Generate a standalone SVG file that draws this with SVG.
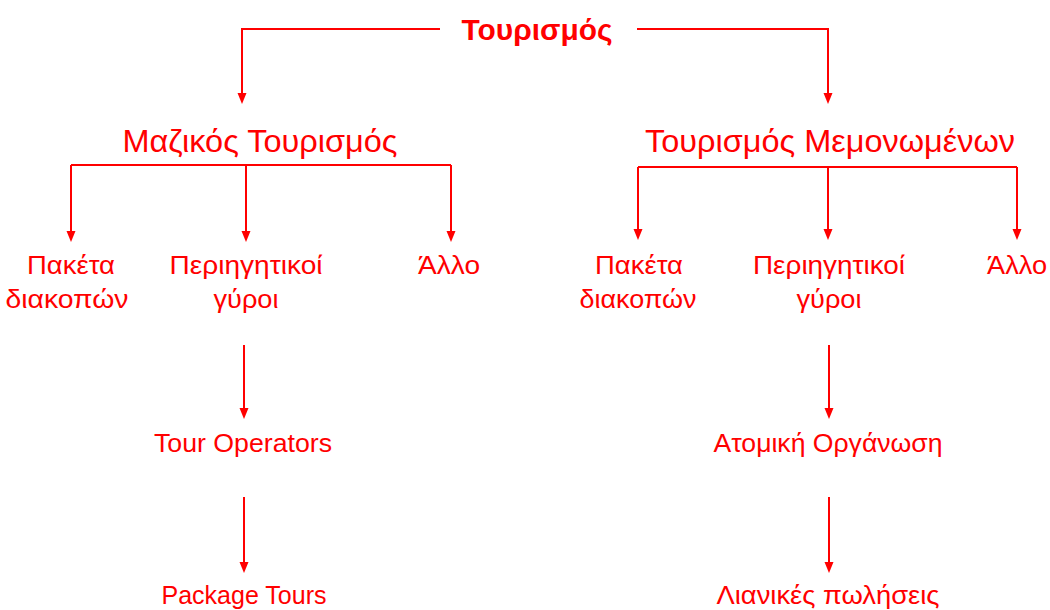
<svg xmlns="http://www.w3.org/2000/svg" width="1050" height="610" viewBox="0 0 1050 610">
<defs>
<style>
.t{font-family:"Liberation Sans","Open Sans",sans-serif;fill:#FF0000;text-anchor:middle}
.title{font-size:29px;font-weight:bold}
.h{font-size:31px}
.n{font-size:25px}
.c{fill:none;stroke:#FF0000;stroke-width:2}
</style>
</defs>
<rect width="1050" height="610" fill="#FFFFFF"/>
<g id="connectors">
<path class="c" d="M440,29 H242 V93"/>
<path class="c" d="M637,29 H828 V93"/>
<line class="c" x1="71" y1="165" x2="451" y2="165"/>
<line class="c" x1="638" y1="167" x2="1017" y2="167"/>
<line class="c" x1="71" y1="165" x2="71" y2="231"/>
<line class="c" x1="246" y1="165" x2="246" y2="231"/>
<line class="c" x1="451" y1="165" x2="451" y2="231"/>
<line class="c" x1="638" y1="167" x2="638" y2="229"/>
<line class="c" x1="828" y1="167" x2="828" y2="229"/>
<line class="c" x1="1017" y1="167" x2="1017" y2="229"/>
<line class="c" x1="244" y1="345" x2="244" y2="408"/>
<line class="c" x1="244" y1="497" x2="244" y2="562"/>
<line class="c" x1="829" y1="345" x2="829" y2="408"/>
<line class="c" x1="829" y1="497" x2="829" y2="562"/>
<g fill="#FF0000">
<path d="M237.5,93 L246.5,93 L242,104 Z"/>
<path d="M823.5,93 L832.5,93 L828,104 Z"/>
<path d="M66.5,231 L75.5,231 L71,242 Z"/>
<path d="M241.5,231 L250.5,231 L246,242 Z"/>
<path d="M446.5,231 L455.5,231 L451,242 Z"/>
<path d="M633.5,229 L642.5,229 L638,240 Z"/>
<path d="M823.5,229 L832.5,229 L828,240 Z"/>
<path d="M1012.5,229 L1021.5,229 L1017,240 Z"/>
<path d="M239.5,408 L248.5,408 L244,419 Z"/>
<path d="M239.5,562 L248.5,562 L244,573 Z"/>
<path d="M824.5,408 L833.5,408 L829,419 Z"/>
<path d="M824.5,562 L833.5,562 L829,573 Z"/>
</g>
</g>
<g id="n-tourismos"><text class="t title" x="537" y="40" textLength="151" lengthAdjust="spacingAndGlyphs">Τουρισμός</text></g>
<g id="n-mazikos"><text class="t h" x="260" y="152" textLength="275" lengthAdjust="spacingAndGlyphs">Μαζικός Τουρισμός</text></g>
<g id="n-memonomenon"><text class="t h" x="830" y="152" textLength="370" lengthAdjust="spacingAndGlyphs">Τουρισμός Μεμονωμένων</text></g>
<g id="n-paketa-l"><text class="t n" x="71" y="274" textLength="88" lengthAdjust="spacingAndGlyphs">Πακέτα</text><text class="t n" x="67" y="308" textLength="123" lengthAdjust="spacingAndGlyphs">διακοπών</text></g>
<g id="n-periig-l"><text class="t n" x="246" y="274" textLength="153" lengthAdjust="spacingAndGlyphs">Περιηγητικοί</text><text class="t n" x="246" y="308" textLength="65" lengthAdjust="spacingAndGlyphs">γύροι</text></g>
<g id="n-allo-l"><text class="t n" x="449" y="274" textLength="62" lengthAdjust="spacingAndGlyphs">Άλλο</text></g>
<g id="n-paketa-r"><text class="t n" x="639" y="274" textLength="88" lengthAdjust="spacingAndGlyphs">Πακέτα</text><text class="t n" x="638" y="308" textLength="117" lengthAdjust="spacingAndGlyphs">διακοπών</text></g>
<g id="n-periig-r"><text class="t n" x="829" y="274" textLength="152" lengthAdjust="spacingAndGlyphs">Περιηγητικοί</text><text class="t n" x="829" y="308" textLength="65" lengthAdjust="spacingAndGlyphs">γύροι</text></g>
<g id="n-allo-r"><text class="t n" x="1017" y="274" textLength="60" lengthAdjust="spacingAndGlyphs">Άλλο</text></g>
<g id="n-tourops"><text class="t n" x="243" y="452" textLength="178" lengthAdjust="spacingAndGlyphs">Tour Operators</text></g>
<g id="n-packtours"><text class="t n" x="244" y="604" textLength="165" lengthAdjust="spacingAndGlyphs">Package Tours</text></g>
<g id="n-atomiki"><text class="t n" x="828" y="452" textLength="229" lengthAdjust="spacingAndGlyphs">Ατομική Οργάνωση</text></g>
<g id="n-lianikes"><text class="t n" x="828" y="604" textLength="223" lengthAdjust="spacingAndGlyphs">Λιανικές πωλήσεις</text></g>
</svg>
